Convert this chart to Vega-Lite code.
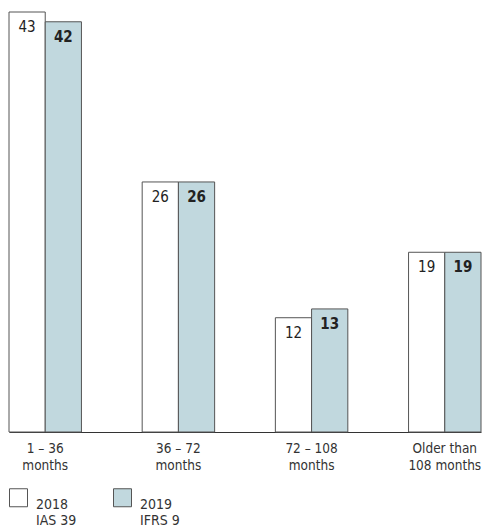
{
  "$schema": "https://vega.github.io/schema/vega-lite/v6.json",
  "autosize": "none",
  "width": 472,
  "height": 420,
  "padding": {"left": 9, "right": 2, "top": 12, "bottom": 99},
  "background": "white",
  "config": {
    "view": {"stroke": null},
    "font": "DejaVu Sans Condensed"
  },
  "data": {
    "values": [
      {"group": "1 – 36|months", "series": "2018|IAS 39", "value": 43.0, "label": "43"},
      {"group": "1 – 36|months", "series": "2019|IFRS 9", "value": 42.0, "label": "42"},
      {"group": "36 – 72|months", "series": "2018|IAS 39", "value": 25.6, "label": "26"},
      {"group": "36 – 72|months", "series": "2019|IFRS 9", "value": 25.6, "label": "26"},
      {"group": "72 – 108|months", "series": "2018|IAS 39", "value": 11.7, "label": "12"},
      {"group": "72 – 108|months", "series": "2019|IFRS 9", "value": 12.6, "label": "13"},
      {"group": "Older than|108 months", "series": "2018|IAS 39", "value": 18.4, "label": "19"},
      {"group": "Older than|108 months", "series": "2019|IFRS 9", "value": 18.4, "label": "19"}
    ]
  },
  "encoding": {
    "x": {
      "field": "group",
      "type": "nominal",
      "sort": null,
      "scale": {"paddingInner": 0.456, "paddingOuter": 0},
      "axis": {
        "title": null,
        "labelAngle": 0,
        "labelExpr": "split(datum.label, '|')",
        "labelFont": "DejaVu Sans Condensed",
        "labelFontSize": 13.5,
        "labelColor": "#333333",
        "labelLineHeight": 17,
        "labelPadding": 9,
        "ticks": false,
        "domain": true,
        "domainColor": "#333333",
        "domainWidth": 1,
        "grid": false
      }
    },
    "xOffset": {"field": "series", "type": "nominal", "sort": null},
    "y": {
      "field": "value",
      "type": "quantitative",
      "scale": {"domain": [0, 43], "nice": false, "zero": true},
      "axis": null
    }
  },
  "layer": [
    {
      "mark": {"type": "bar", "stroke": "#555555", "strokeWidth": 1},
      "encoding": {
        "color": {
          "field": "series",
          "type": "nominal",
          "sort": null,
          "scale": {"range": ["#ffffff", "#c1d8de"]},
          "legend": {
            "title": null,
            "orient": "bottom",
            "direction": "horizontal",
            "offset": 16,
            "padding": 0,
            "labelExpr": "split(datum.label, '|')",
            "labelFont": "DejaVu Sans Condensed",
            "labelFontSize": 14,
            "labelColor": "#333333",
            "labelBaseline": "top",
            "labelLineHeight": 19,
            "labelOffset": 8,
            "symbolType": "square",
            "symbolSize": 324,
            "symbolStrokeColor": "#555555",
            "symbolStrokeWidth": 1,
            "columnPadding": 34
          }
        }
      }
    },
    {
      "mark": {
        "type": "text",
        "baseline": "top",
        "align": "center",
        "dy": 8,
        "font": "DejaVu Sans Condensed",
        "fontSize": 15,
        "color": "#222222",
        "fontWeight": {"expr": "indexof(datum.series, '2019') == 0 ? 'bold' : 'normal'"}
      },
      "encoding": {
        "text": {"field": "label", "type": "nominal"}
      }
    }
  ]
}
